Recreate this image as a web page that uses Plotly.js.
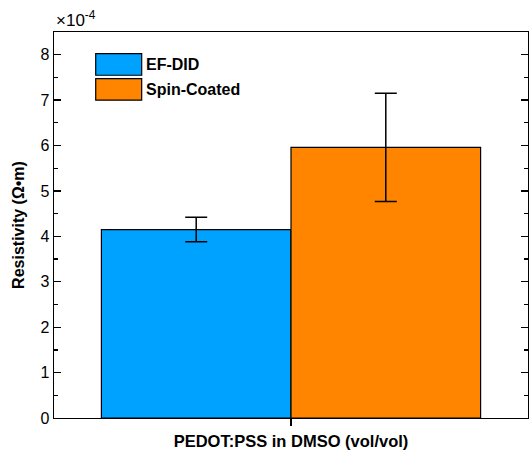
<!DOCTYPE html>
<html>
<head>
<meta charset="utf-8">
<script src="https://cdn.plot.ly/plotly-3.0.1.min.js"></script>
<style>html,body{margin:0;padding:0;background:#fff;}#chart{width:530px;height:453px;}</style>
</head>
<body>
<div id="chart"></div>
<script>
// Data (resistivity in units of 1e-4 Ω·m)
const category = ["PEDOT:PSS in DMSO (vol/vol)"];
const seriesNames = ["EF-DID", "Spin-Coated"];
const efdidValues = [4.15];
const efdidErrors = [0.27];
const spinValues = [5.96];
const spinErrors = [1.19];
const seriesColors = ["#00A2FF", "#FF8400"];

const font = "Liberation Sans, Arial, sans-serif";

const traces = [
  {type: "bar", x: category, y: efdidValues, name: seriesNames[0],
   marker: {color: seriesColors[0], line: {color: "#000", width: 1.2}},
   error_y: {type: "data", array: efdidErrors, visible: true, color: "#000", thickness: 1.5, width: 11}},
  {type: "bar", x: category, y: spinValues, name: seriesNames[1],
   marker: {color: seriesColors[1], line: {color: "#000", width: 1.2}},
   error_y: {type: "data", array: spinErrors, visible: true, color: "#000", thickness: 1.5, width: 11}}
];

const shapes = [];
const annotations = [];
seriesNames.forEach((n, i) => {
  const y1 = 0.944 - i * 0.0646;
  shapes.push({type: "rect", xref: "paper", yref: "paper",
    x0: 0.088, x1: 0.185, y0: y1 - 0.056, y1: y1,
    fillcolor: seriesColors[i], line: {color: "#000", width: 1.2}});
  annotations.push({xref: "paper", yref: "paper", x: 0.19, y: y1 - 0.028,
    xanchor: "left", yanchor: "middle", showarrow: false, text: "<b>" + n + "</b>",
    font: {family: font, size: 16, color: "#000"}});
});
annotations.push({xref: "paper", yref: "paper", x: 0.0, y: 1.0, xanchor: "left", yanchor: "bottom",
  showarrow: false, text: "<span style='font-size:17px'>×10</span><sup>-4</sup>",
  font: {family: font, size: 17, color: "#000"}});

const layout = {
  width: 530, height: 453,
  margin: {l: 54, r: 2, t: 32, b: 35},
  paper_bgcolor: "#fff", plot_bgcolor: "#fff",
  barmode: "group", bargap: 0.2, bargroupgap: 0,
  showlegend: false,
  font: {family: font, size: 16, color: "#000"},
  xaxis: {
    range: [-0.5, 0.5], showticklabels: false, ticks: "outside", ticklen: 7, tickwidth: 1.3,
    tickcolor: "#000", showline: true, linecolor: "#000", linewidth: 1.3, mirror: true,
    showgrid: false, zeroline: false,
    title: {text: "<b>PEDOT:PSS in DMSO (vol/vol)</b>", font: {family: font, size: 16.5, color: "#000"}, standoff: 10}
  },
  yaxis: {
    range: [0, 8.5], dtick: 1, tick0: 0, ticks: "inside", ticklen: 7, tickwidth: 1.3, tickcolor: "#000",
    minor: {dtick: 0.5, ticks: "inside", ticklen: 4, tickwidth: 1.3, tickcolor: "#000"},
    showline: true, linecolor: "#000", linewidth: 1.3, mirror: "ticks",
    showgrid: false, zeroline: false,
    tickfont: {family: font, size: 16, color: "#000"},
    title: {text: "<b>Resistivity (Ω•m)</b>", font: {family: font, size: 16, color: "#000"}, standoff: 12}
  },
  shapes: shapes,
  annotations: annotations
};

Plotly.newPlot("chart", traces, layout, {displayModeBar: false, staticPlot: true});
</script>
</body>
</html>
